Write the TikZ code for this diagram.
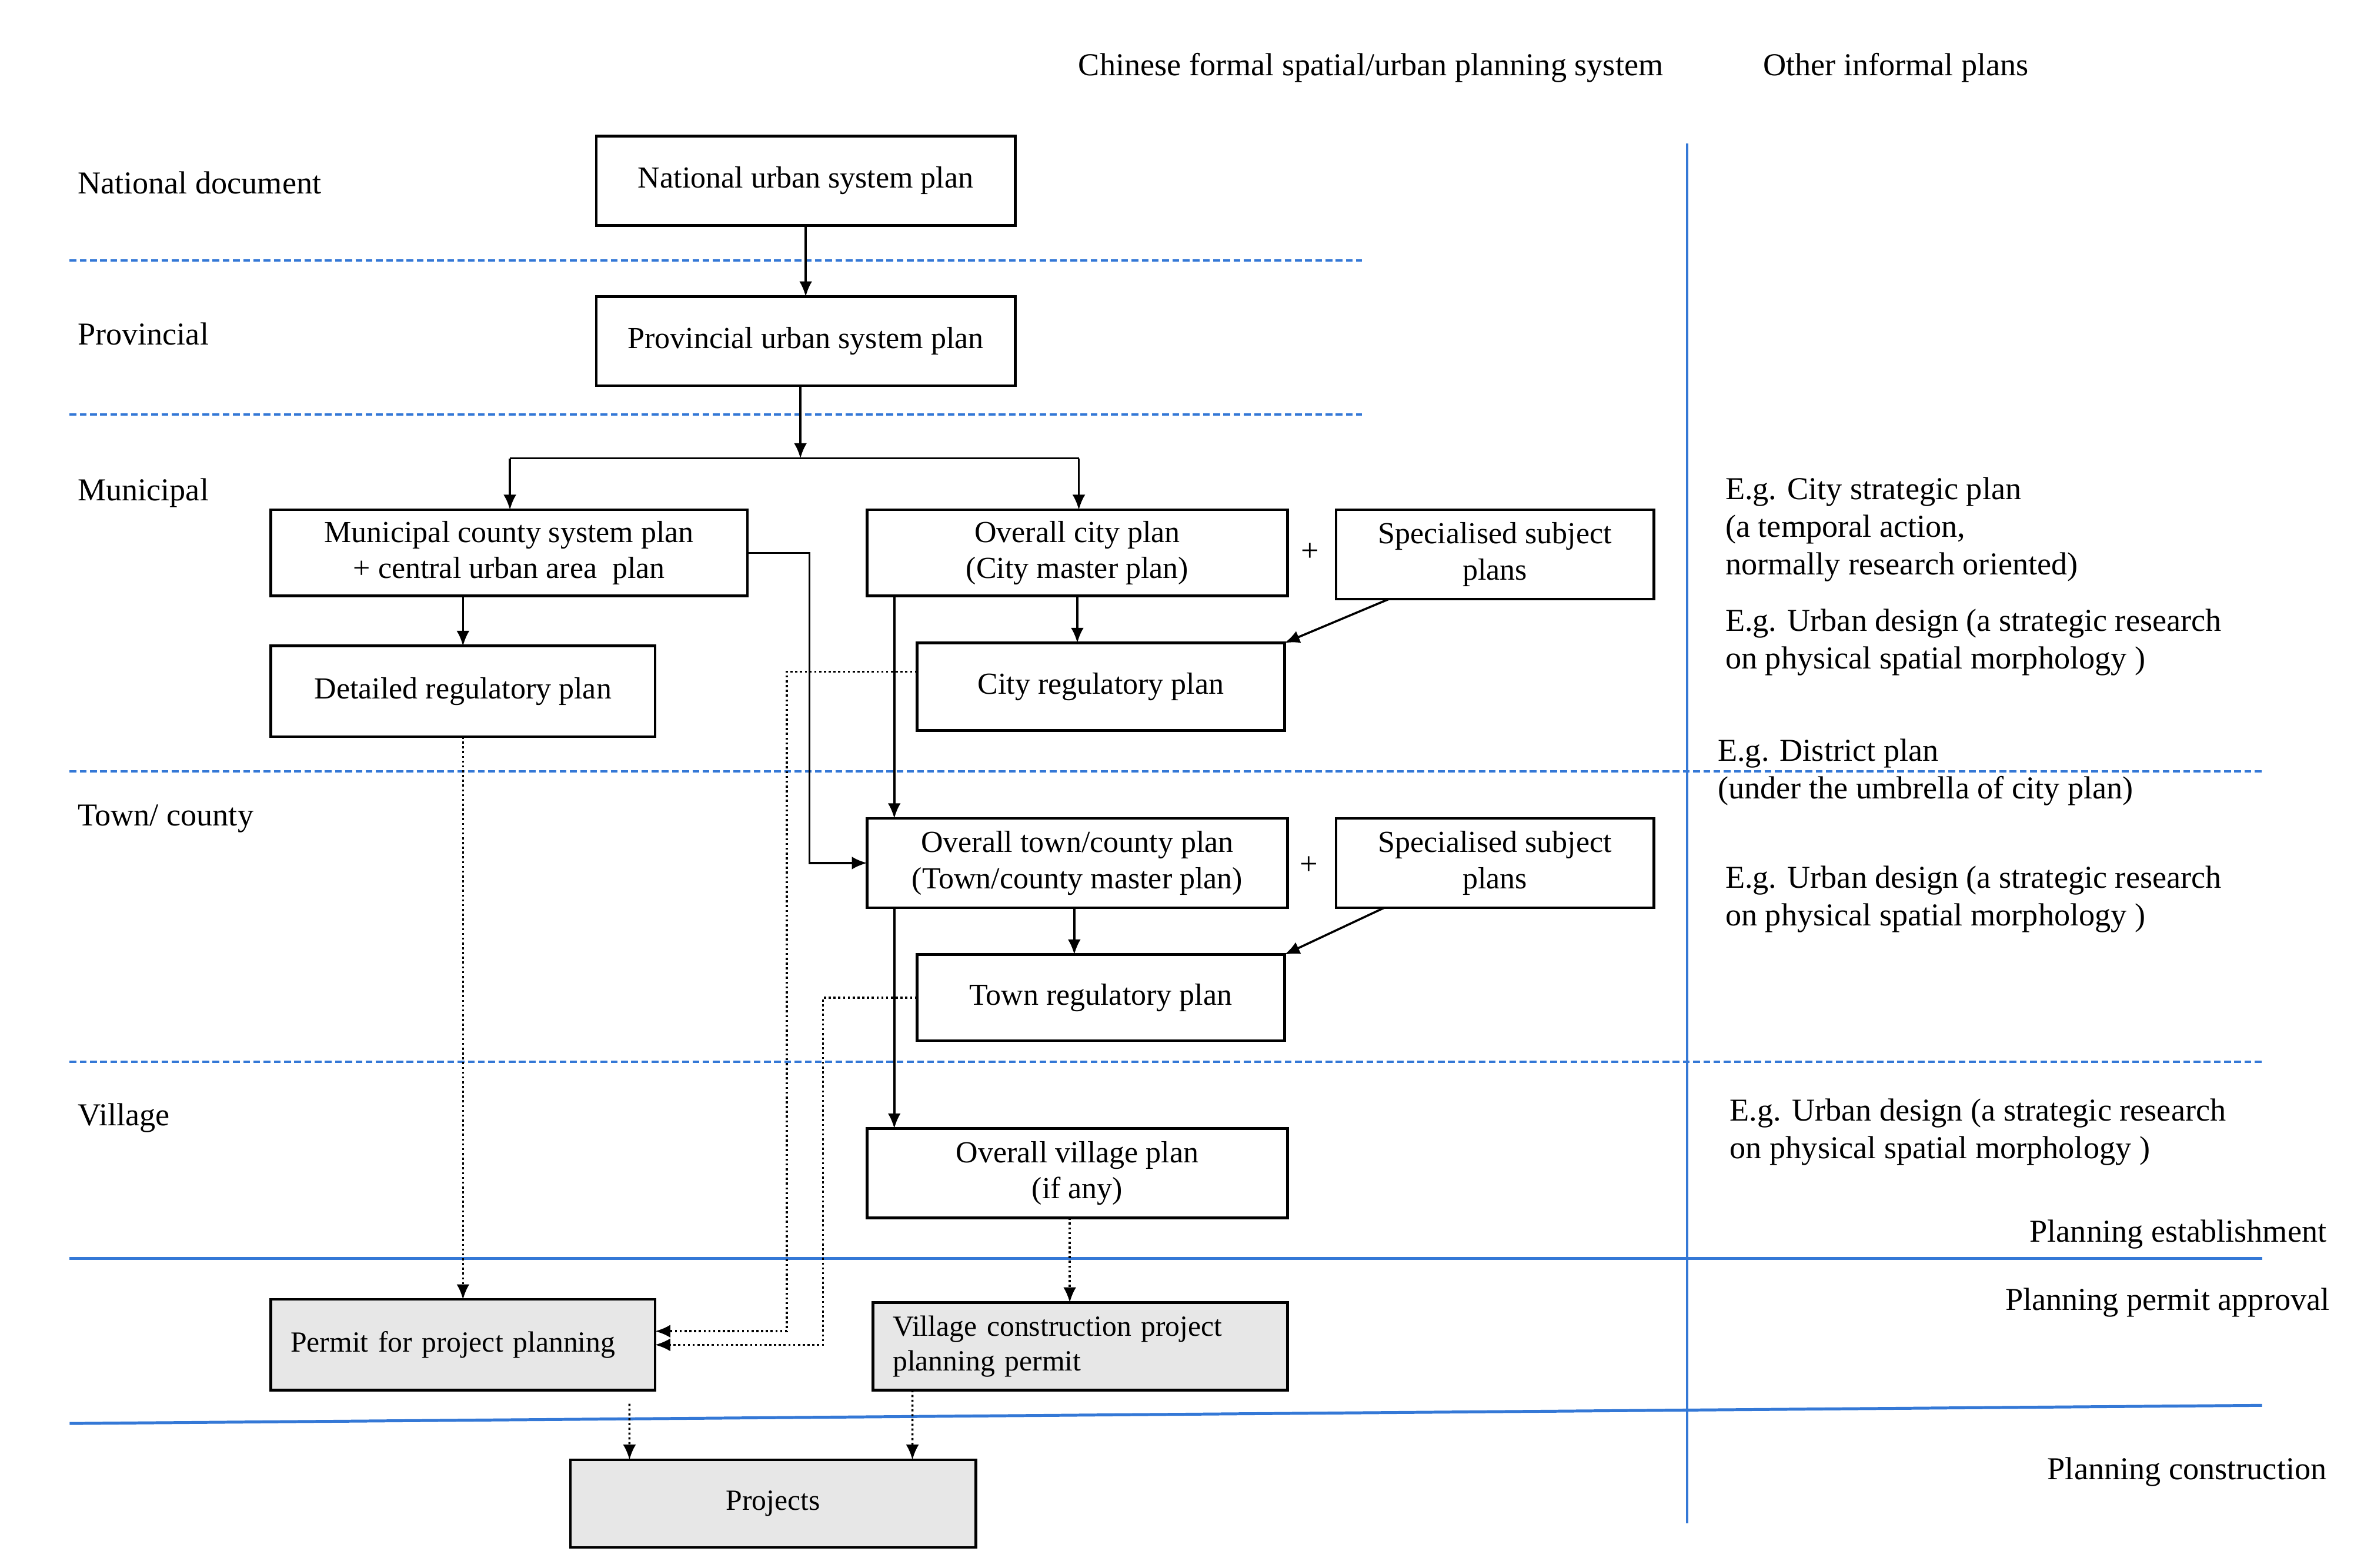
\documentclass[tikz,border=0pt]{standalone}
\usepackage{fontspec}
\setmainfont{Liberation Serif}
\usetikzlibrary{arrows.meta,calc}
\definecolor{bandblue}{RGB}{52,120,214}
\definecolor{boxgray}{RGB}{231,231,231}
\tikzset{
  planbox/.style={draw=black, line width=1pt, inner sep=0pt, outer sep=0pt, align=center, font=\fontsize{11.5}{13.6}\selectfont},
  permitbox/.style={planbox, fill=boxgray, font=\fontsize{11}{13}\selectfont},
  lbl/.style={inner sep=0pt, font=\fontsize{12}{14.2}\selectfont},
  note/.style={lbl, align=left, anchor=base west},
  flow/.style={line width=0.8pt, -{Latex[length=0.2cm,width=0.17cm]}},
  dotflow/.style={flow, densely dotted},
  tierline/.style={draw=bandblue, line width=0.9pt, dash pattern=on 0.09cm off 0.045cm},
  phaseline/.style={draw=bandblue, line width=1.1pt},
}
\begin{document}
\begin{tikzpicture}[x=0.02cm, y=-0.02cm]
\useasboundingbox (0,0) rectangle (1569,1036.5);

% headers
\node[lbl, anchor=base] (hdrformal) at (906,50) {Chinese formal spatial/urban planning system};
\node[lbl, anchor=base] (hdrinformal) at (1253,50) {Other informal plans};

% level labels
\node[lbl, anchor=base west] (lvnat) at (51,128) {National document};
\node[lbl, anchor=base west] (lvprov) at (51,228) {Provincial};
\node[lbl, anchor=base west] (lvmuni) at (51,331) {Municipal};
\node[lbl, anchor=base west] (lvtown) at (51,546) {Town/ county};
\node[lbl, anchor=base west] (lvvill) at (51,744) {Village};

% blue rules
\draw[tierline] (46,172) -- (900,172);
\draw[tierline] (46,274) -- (900,274);
\draw[tierline] (46,510) -- (1495,510);
\draw[tierline] (46,702) -- (1495,702);
\draw[phaseline] (46,832) -- (1495,832);
\draw[phaseline] (46,941) -- (1495,929);
\draw[bandblue, line width=0.9pt] (1115,95) -- (1115,1007);

% boxes
\node[planbox, minimum width=5.54cm, minimum height=1.18cm] (nat) at (532.5,119.5) {National urban system plan};
\node[planbox, minimum width=5.54cm, minimum height=1.18cm] (prov) at (532.5,225.5) {Provincial urban system plan};
\node[planbox, minimum width=6.3cm, minimum height=1.14cm] (muni) at (336.5,365.5) {Municipal county system plan\\+ central urban area~ plan};
\node[planbox, minimum width=5.56cm, minimum height=1.14cm] (city) at (712,365.5) {Overall city plan\\(City master plan)};
\node[planbox, minimum width=4.2cm, minimum height=1.18cm] (spec1) at (988,366.5) {Specialised subject\\plans};
\node[planbox, minimum width=5.08cm, minimum height=1.2cm] (det) at (306,457) {Detailed regulatory plan};
\node[planbox, minimum width=4.86cm, minimum height=1.16cm] (creg) at (727.5,454) {City regulatory plan};
\node[planbox, minimum width=5.56cm, minimum height=1.18cm] (town) at (712,570.5) {Overall town/county plan\\(Town/county master plan)};
\node[planbox, minimum width=4.2cm, minimum height=1.18cm] (spec2) at (988,570.5) {Specialised subject\\plans};
\node[planbox, minimum width=4.86cm, minimum height=1.14cm] (treg) at (727.5,659.5) {Town regulatory plan};
\node[planbox, minimum width=5.56cm, minimum height=1.18cm] (vill) at (712,775.5) {Overall village plan\\(if any)};
\node[permitbox, text width=4.56cm, align=left, inner xsep=0.26cm, minimum height=1.2cm] (permit) at (306,889) {Permit for project planning};
\node[permitbox, text width=4.96cm, align=left, inner xsep=0.26cm, minimum height=1.16cm] (vpermit) at (714,890) {Village construction project\\planning permit};
\node[permitbox, minimum width=5.36cm, minimum height=1.16cm] (proj) at (511,994) {Projects};

\node[lbl] (plus1) at (866,365) {+};
\node[lbl] (plus2) at (865,572) {+};

% right column notes (anchor = baseline of last line)
\node[note] (n1) at (1140,380) {E.g. City strategic plan\\(a temporal action,\\normally research oriented)};
\node[note] (n2) at (1140,442) {E.g. Urban design (a strategic research\\on physical spatial morphology )};
\node[note] (n3) at (1135,528) {E.g. District plan\\(under the umbrella of city plan)};
\node[note] (n4) at (1140,612) {E.g. Urban design (a strategic research\\on physical spatial morphology )};
\node[note] (n5) at (1143,766) {E.g. Urban design (a strategic research\\on physical spatial morphology )};
\node[lbl, anchor=base east] (ph1) at (1538,821) {Planning establishment};
\node[lbl, anchor=base east] (ph2) at (1540,866) {Planning permit approval};
\node[lbl, anchor=base east] (ph3) at (1538,978) {Planning construction};

% connectors
\coordinate (split) at (529,303);
\coordinate (jl) at (337,303);
\coordinate (jr) at (713,303);
\draw[flow] (nat.south) -- (prov.north);
\draw[flow] (prov.south -| split) -- (split);
\draw[line width=0.8pt] (jl) -- (jr);
\draw[flow] (jl) -- (jl |- muni.north);
\draw[flow] (jr) -- (jr |- city.north);
\draw[flow] (det.north |- muni.south) -- (det.north);
\draw[flow] (city.south) -- (city.south |- creg.north);
\draw[flow] ($(spec1.south west)+(35,0)$) -- (creg.north east);
\draw[flow] (muni.east) -- ++(41,0) |- (town.west);
\draw[flow] ($(city.south west)+(18,0)$) -- ($(town.north west)+(18,0)$);
\draw[dotflow] ($(creg.west)+(0,-10)$) -| ($(permit.east)+(87,-9)$) -- ($(permit.east)+(0,-9)$);
\draw[dotflow] (treg.west) -| ($(permit.east)+(111,0)$) -- (permit.east);
\draw[flow] ($(town.south west)+(18,0)$) -- ($(vill.north west)+(18,0)$);
\draw[flow] ($(town.south)+(-2,0)$) -- ($(town.south |- treg.north)+(-2,0)$);
\draw[flow] ($(spec2.south west)+(32,0)$) -- (treg.north east);
\draw[dotflow] ($(vill.south)+(-5,0)$) -- ($(vill.south |- vpermit.north)+(-5,0)$);
\draw[dotflow] (det.south) -- (permit.north);
\draw[dotflow] ($(permit.south west)+(237,9)$) -- ($(proj.north west)+(39,0)$);
\draw[dotflow] ($(vpermit.south west)+(26,0)$) -- ($(proj.north west)+(226,0)$);
\end{tikzpicture}
\end{document}
